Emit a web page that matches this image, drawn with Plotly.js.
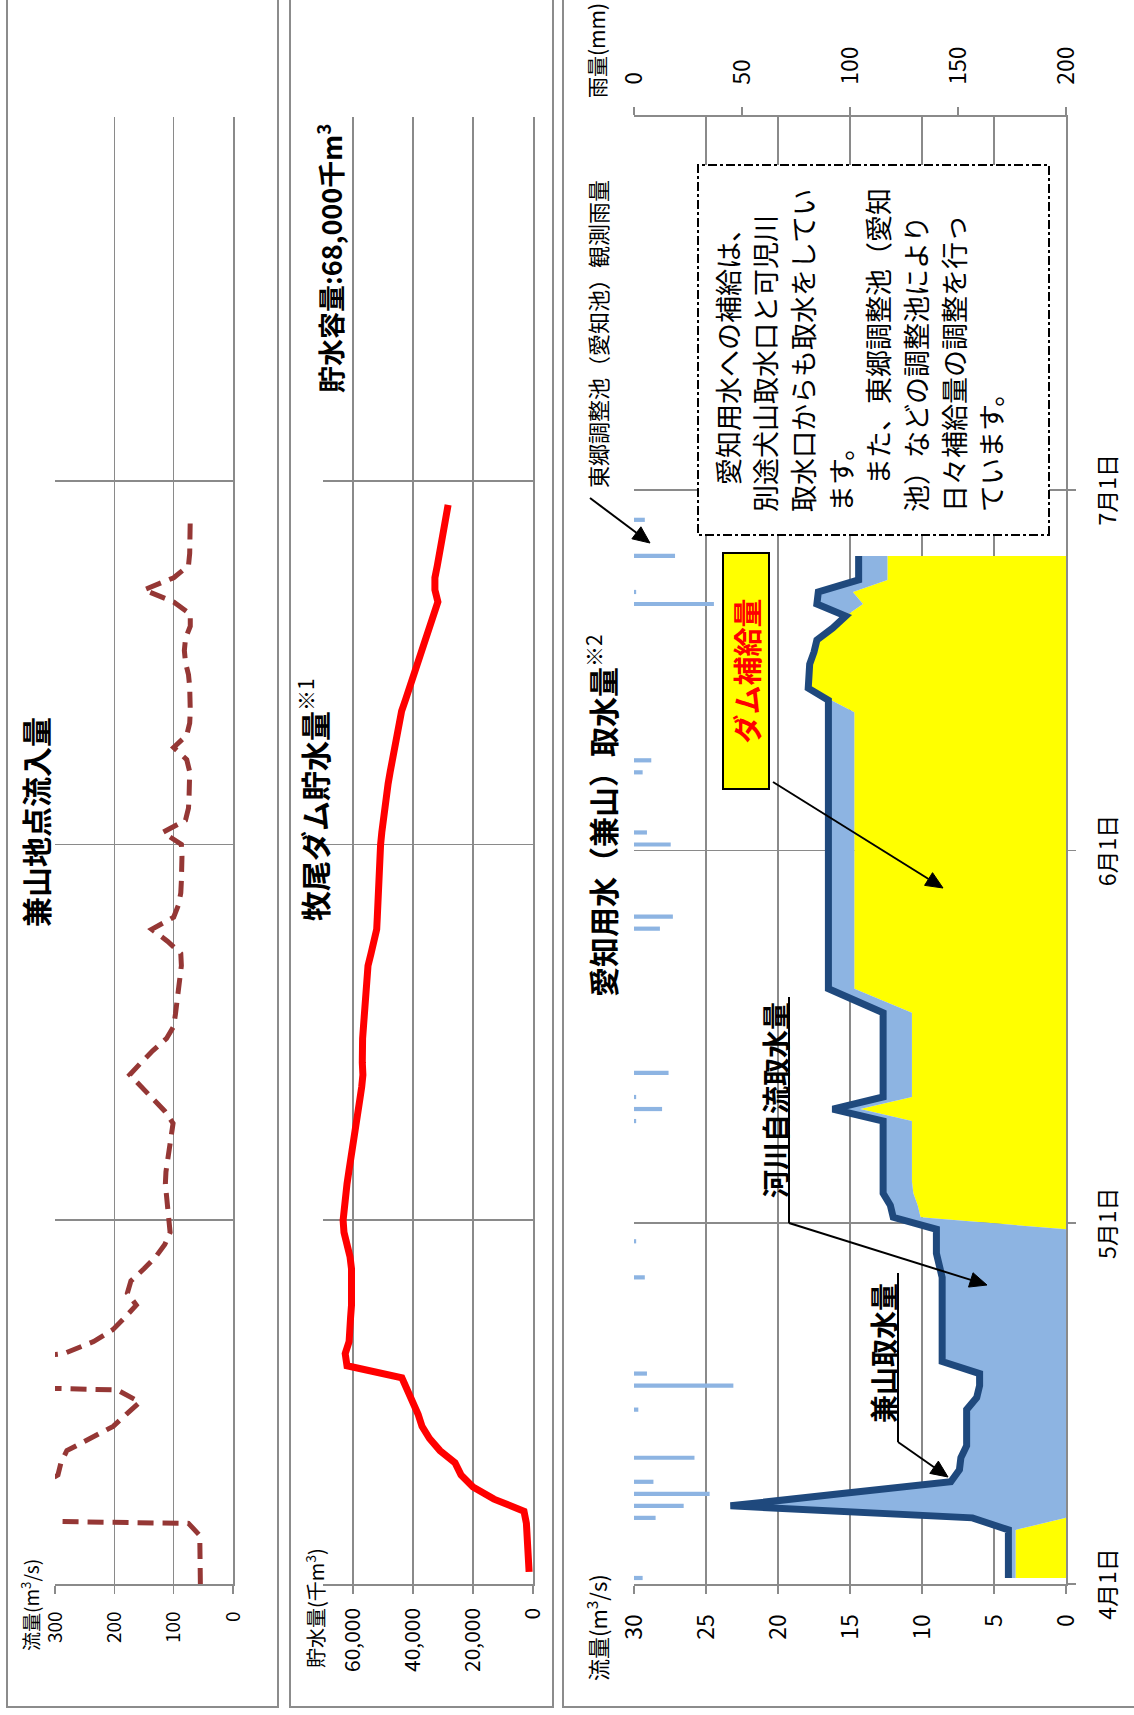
<!DOCTYPE html>
<html><head><meta charset="utf-8">
<script src="https://cdn.plot.ly/plotly-3.0.1.min.js"></script>
<style>
html,body{margin:0;padding:0;width:1134px;height:1715px;overflow:hidden;background:#fff;}
#wrap{position:absolute;left:0;top:0;width:1715px;height:1134px;transform-origin:0 0;transform:translateY(1715px) rotate(-90deg);}
</style></head><body><div id="wrap"></div>
<script>
// ---------------- data ----------------
const startDate = '2013-04-01';
// 兼山地点流入量 (m3/s), daily from 4/1
const inflow = [55,55,56,55,56,75,1500,800,330,295,
  290,280,240,202,180,157,195,1000,500,285,
  235,202,182,163,178,172,150,130,115,106,
  108,110,112,114,113,110,106,103,101,115,
  135,155,174,155,135,112,100,97,94,92,
  88,87,88,110,137,100,92,88,87,86,
  86,87,118,80,75,74,73,73,78,100,
  78,73,72,72,73,75,80,82,80,72,
  72,100,150,100,75,73,72,72,72];
// 牧尾ダム貯水量 (千m3), daily from 4/2
const storage = [1300,1500,1700,1900,2200,3000,13000,20000,24000,26000,
  31000,34500,37000,38300,40000,42000,43700,62000,62600,61300,
  61300,60800,60500,60400,60400,60500,61000,62000,63000,63300,
  63000,62700,62000,61400,60700,60000,59400,58800,58200,57700,
  57100,56700,56900,57000,56800,56500,56300,56000,55700,55400,
  55000,54000,53000,52100,51900,51800,51700,51500,51200,51000,
  50800,50400,50000,49500,48900,48300,47600,46900,46200,45600,
  45000,43800,42400,41000,39700,38300,37000,35600,34200,32800,
  31700,32700,32700,31900,31100,30300,29600,28900,28300];
// 兼山取水量 (m3/s), daily from 4/1
const intakeTotal = [4.0,4.0,4.0,4.0,4.0,6.5,23.3,15.7,8.0,7.4,
  7.3,6.9,6.9,6.9,6.9,6.2,6.0,6.0,8.6,8.6,
  8.6,8.6,8.6,8.6,8.6,8.6,8.8,9.0,9.0,9.0,
  12.0,12.2,12.7,12.7,12.7,12.7,12.7,12.7,12.7,16.2,
  12.7,12.7,12.7,12.7,12.7,12.7,12.7,12.7,14.6,16.5,
  16.5,16.5,16.5,16.5,16.5,16.5,16.5,16.5,16.5,16.5,
  16.5,16.5,16.5,16.5,16.5,16.5,16.5,16.5,16.5,16.5,
  16.5,16.5,16.5,16.5,17.9,17.9,17.8,17.5,17.3,16.2,
  15.3,17.3,17.2,14.4,14.4,14.4];
// ダム補給量 (m3/s)
const damSupply = [3.5,3.5,3.5,3.5,3.5,0,0,0,0,0,
  0,0,0,0,0,0,0,0,0,0,
  0,0,0,0,0,0,0,0,0,0,
  10.1,10.3,10.6,10.7,10.7,10.7,10.7,10.7,10.7,14.3,
  10.7,10.7,10.7,10.7,10.7,10.7,10.7,10.7,12.7,14.7,
  14.7,14.7,14.7,14.7,14.7,14.7,14.7,14.7,14.7,14.7,
  14.7,14.7,14.7,14.7,14.7,14.7,14.7,14.7,14.7,14.7,
  14.7,14.7,14.7,16.3,17.9,17.9,17.8,17.5,17.2,16.2,
  15.3,14.1,14.8,12.4,12.4,12.4];
// 河川自流取水量 (m3/s)
const riverIntake = [0.5,0.5,0.5,0.5,0.5,6.5,23.3,15.7,8.0,7.4,
  7.3,6.9,6.9,6.9,6.9,6.2,6.0,6.0,8.6,8.6,
  8.6,8.6,8.6,8.6,8.6,8.6,8.8,9.0,9.0,9.0,
  1.9,1.9,2.1,2.0,2.0,2.0,2.0,2.0,2.0,1.9,
  2.0,2.0,2.0,2.0,2.0,2.0,2.0,2.0,1.9,1.8,
  1.8,1.8,1.8,1.8,1.8,1.8,1.8,1.8,1.8,1.8,
  1.8,1.8,1.8,1.8,1.8,1.8,1.8,1.8,1.8,1.8,
  1.8,1.8,1.8,0.2,0,0,0,0,0.1,0,
  0,3.2,2.4,2.0,2.0,2.0];
// 東郷調整池(愛知池)観測雨量 (mm)
const rainDates = ['2013-04-01','2013-04-06','2013-04-07','2013-04-08','2013-04-09','2013-04-11','2013-04-15',
  '2013-04-17','2013-04-18','2013-04-26','2013-04-29','2013-05-09','2013-05-10','2013-05-11','2013-05-13',
  '2013-05-25','2013-05-26','2013-06-01','2013-06-02','2013-06-07','2013-06-08','2013-06-21','2013-06-22',
  '2013-06-25','2013-06-28'];
const rainMm = [4,10,23,35,9,28,2,46,6,5,1,1,13,1,16,12,18,17,6,4,8,37,1,19,5];
const dateTickVals = ['2013-04-01','2013-05-01','2013-06-01','2013-07-01'];
const dateTickText = ['4月1日','5月1日','6月1日','7月1日'];
const noteLines = ['　愛知用水への補給は、','別途犬山取水口と可児川','取水口からも取水をしてい','ます。',
  '　また、東郷調整池（愛知','池）などの調整池により','日々補給量の調整を行っ','ています。'];

// ---------------- helpers ----------------
const W = 1715, H = 1134, DAY = 86400000;
const FONT = '"Noto Sans CJK JP", "Noto Sans", sans-serif';
const GRID = '#8a8a8a';
function dayList(offset, n){
  const t0 = Date.parse(startDate + 'T00:00:00Z');
  const out = [];
  for (let i = 0; i < n; i++) out.push(new Date(t0 + (offset + i) * DAY).toISOString().slice(0, 10));
  return out;
}
const PX = X => X / W;
const PY = Y => 1 - Y / H;

const xBase = {type:'date', domain:[PX(131), PX(1598)],
  tickvals:dateTickVals, ticktext:dateTickText, showgrid:true, gridcolor:GRID, gridwidth:1.6,
  showline:true, linecolor:GRID, linewidth:1.6, zeroline:false, fixedrange:true};

const traces = [
  {x:dayList(0, inflow.length), y:inflow, xaxis:'x', yaxis:'y', type:'scatter', mode:'lines',
   line:{color:'#953735', width:5, dash:'16px,9px'}},
  {x:dayList(1, storage.length), y:storage, xaxis:'x2', yaxis:'y2', type:'scatter', mode:'lines',
   line:{color:'#ff0000', width:7}},
  {x:dayList(0, damSupply.length), y:damSupply, xaxis:'x3', yaxis:'y3', type:'scatter', mode:'lines',
   stackgroup:'flow', fillcolor:'#ffff00', line:{width:0, color:'#ffff00'},
   xperiod:DAY, xperiodalignment:'middle'},
  {x:dayList(0, riverIntake.length), y:riverIntake, xaxis:'x3', yaxis:'y3', type:'scatter', mode:'lines',
   stackgroup:'flow', fillcolor:'#8db4e2', line:{width:0, color:'#8db4e2'},
   xperiod:DAY, xperiodalignment:'middle'},
  {x:dayList(0, intakeTotal.length), y:intakeTotal, xaxis:'x3', yaxis:'y3', type:'scatter', mode:'lines',
   line:{color:'#1f497d', width:7}, xperiod:DAY, xperiodalignment:'middle'},
  {x:rainDates, y:rainMm, xaxis:'x3', yaxis:'y4', type:'bar', marker:{color:'#8db4e2'},
   width:0.35*DAY, xperiod:DAY, xperiodalignment:'middle'}
];

const tickFontS = {family:FONT, size:19, color:'#000'};
const tickFontL = {family:FONT, size:23, color:'#000'};

const annotations = [
  {text:'<b>兼山地点流入量</b>', x:PX(893), y:PY(35), font:{size:30}},
  {text:'<b>牧尾ダム貯水量</b><sup>※1</sup>', x:PX(915), y:PY(313), font:{size:30}},
  {text:'<b>貯水容量:68,000千m<sup>3</sup></b>', x:PX(1456), y:PY(330), font:{size:27}},
  {text:'<b>愛知用水（兼山）取水量</b><sup>※2</sup>', x:PX(900), y:PY(601), font:{size:30}},
  {text:'流量(m<sup>3</sup>/s)', x:PX(62), y:PY(30), xanchor:'left', font:{size:19}},
  {text:'貯水量(千m<sup>3</sup>)', x:PX(45), y:PY(315), xanchor:'left', font:{size:20}},
  {text:'流量(m<sup>3</sup>/s)', x:PX(32), y:PY(596), xanchor:'left', font:{size:22}},
  {text:'雨量(mm)', x:PX(1615), y:PY(596), xanchor:'left', font:{size:21}},
  {text:'東郷調整池（愛知池）観測雨量', x:PX(1225), y:PY(597), xanchor:'left', font:{size:22}},
  {text:'<b>河川自流取水量</b>', x:PX(515), y:PY(775), xanchor:'left', font:{size:28}},
  {text:'<b>兼山取水量</b>', x:PX(290), y:PY(883), xanchor:'left', font:{size:28}},
  {text:'<b>ダム補給量</b>', x:PX(1044), y:PY(746), font:{size:29, color:'#ff0000'},
   bgcolor:'#ffff00', bordercolor:'#000', borderwidth:2, borderpad:0, width:234, height:44}
].map(a => Object.assign({xref:'paper', yref:'paper', showarrow:false, xanchor:'center', yanchor:'middle'},
  a, {font:Object.assign({family:FONT, color:'#000'}, a.font || {})}));

noteLines.forEach((t, k) => annotations.push({text:t, xref:'paper', yref:'paper', x:PX(1201), y:PY(727 + k*37.7),
  xanchor:'left', yanchor:'middle', showarrow:false, font:{family:FONT, size:27, color:'#000'}}));

const box = (y0, y1) => ({type:'rect', xref:'paper', yref:'paper', x0:PX(8), x1:1.02, y0:PY(y1), y1:PY(y0),
  line:{color:'#8c8c8c', width:2}, fillcolor:'rgba(0,0,0,0)', layer:'below'});

// arrow drawn as a line plus a filled head, tail (X0,Y0) -> head (X1,Y1) in figure pixels
function arrow(X0, Y0, X1, Y1){
  const L = 17, w = 7.5;
  const dx = X1 - X0, dy = Y1 - Y0, len = Math.hypot(dx, dy), ux = dx/len, uy = dy/len;
  const bx = X1 - ux*L, by = Y1 - uy*L, nx = -uy, ny = ux;
  return [
    {type:'line', xref:'paper', yref:'paper', x0:PX(X0), y0:PY(Y0), x1:PX(bx), y1:PY(by), line:{color:'#000', width:2}},
    {type:'path', xref:'paper', yref:'paper', fillcolor:'#000', line:{color:'#000', width:1},
     path:`M ${PX(X1)} ${PY(Y1)} L ${PX(bx+nx*w)} ${PY(by+ny*w)} L ${PX(bx-nx*w)} ${PY(by-ny*w)} Z`}
  ];
}

const shapes = [
  box(7, 278), box(290, 553), box(563, 1150),
  {type:'rect', xref:'paper', yref:'paper', x0:PX(1180), x1:PX(1550), y0:PY(1049), y1:PY(698),
   line:{color:'#000', width:2, dash:'dashdot'}, fillcolor:'#fff', layer:'above'},
  {type:'line', xref:'paper', yref:'paper', x0:PX(718), x1:PX(492), y0:PY(789), y1:PY(789), line:{color:'#000', width:2}},
  {type:'line', xref:'paper', yref:'paper', x0:PX(442), x1:PX(273), y0:PY(898), y1:PY(898), line:{color:'#000', width:2}},
  ...arrow(1217, 590, 1172, 650),
  ...arrow(933, 773, 827, 943),
  ...arrow(492, 789, 430, 987),
  ...arrow(273, 898, 238, 948)
];

const layout = {
  width:W, height:H, margin:{l:0, r:0, t:0, b:0}, paper_bgcolor:'#fff', plot_bgcolor:'rgba(0,0,0,0)',
  showlegend:false, hovermode:false, font:{family:FONT, color:'#000'},
  xaxis: Object.assign({}, xBase, {anchor:'y', range:['2013-04-01','2013-07-31'], showticklabels:false, ticks:''}),
  xaxis2: Object.assign({}, xBase, {anchor:'y2', range:['2013-04-01','2013-07-31'], showticklabels:false, ticks:''}),
  xaxis3: Object.assign({}, xBase, {anchor:'y3', range:['2013-04-01','2013-08-01'], ticks:'outside', ticklen:8,
    tickcolor:GRID, tickwidth:1.6, tickfont:tickFontL, ticklabelstandoff:13}),
  yaxis: {domain:[PY(233), PY(55)], range:[0,300], tickvals:[0,100,200,300], anchor:'x',
    showgrid:true, gridcolor:GRID, gridwidth:1.6, showline:true, linecolor:GRID, linewidth:1.6, zeroline:false,
    ticks:'outside', ticklen:8, tickcolor:GRID, tickwidth:1.6, tickfont:tickFontS, ticklabelstandoff:14},
  yaxis2: {domain:[PY(533), PY(323)], range:[0,70000], tickvals:[0,20000,40000,60000], tickformat:',d', anchor:'x2',
    showgrid:true, gridcolor:GRID, gridwidth:1.6, showline:true, linecolor:GRID, linewidth:1.6, zeroline:false,
    ticks:'outside', ticklen:8, tickcolor:GRID, tickwidth:1.6, tickfont:{family:FONT, size:21, color:'#000'}, ticklabelstandoff:10},
  yaxis3: {domain:[PY(1066), PY(634)], range:[0,30], tickvals:[0,5,10,15,20,25,30], anchor:'x3',
    showgrid:true, gridcolor:GRID, gridwidth:1.6, showline:true, linecolor:GRID, linewidth:1.6, zeroline:false,
    ticks:'outside', ticklen:8, tickcolor:GRID, tickwidth:1.6, tickfont:tickFontL, ticklabelstandoff:16},
  yaxis4: {overlaying:'y3', side:'right', anchor:'x3', range:[200,0], tickvals:[0,50,100,150,200],
    showgrid:false, showline:true, linecolor:GRID, linewidth:1.6, zeroline:false,
    ticks:'outside', ticklen:8, tickcolor:GRID, tickwidth:1.6, tickfont:tickFontL, ticklabelstandoff:18},
  annotations: annotations,
  shapes: shapes
};

Plotly.newPlot('wrap', traces, layout, {staticPlot:true, displayModeBar:false});
</script></body></html>
